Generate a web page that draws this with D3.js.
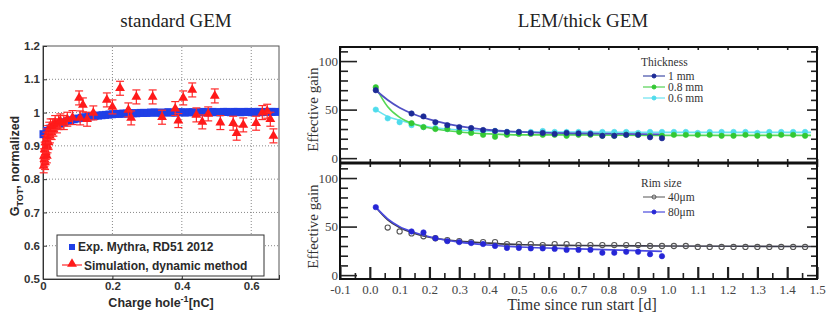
<!DOCTYPE html>
<html lang="en">
<head>
<meta charset="utf-8">
<title>GEM gain stability</title>
<script src="https://d3js.org/d3.v7.min.js"></script>
<style>
  body { margin: 0; background: #fff; }
  .sans { font-family: "Liberation Sans", Arial, sans-serif; font-weight: bold; fill: #2a2a2a; }
  .serif { font-family: "Liberation Serif", "Times New Roman", serif; fill: #333; }
  .tickL text { font-family: "Liberation Sans", Arial, sans-serif; font-weight: bold; font-size: 11.5px; fill: #333; }
  .tickR text { font-family: "Liberation Serif", "Times New Roman", serif; font-size: 13px; fill: #444; }
</style>
</head>
<body>
<svg id="chart" width="830" height="320"></svg>
<script>
// ---------- data: standard GEM (left) ----------
var expX = [0,0.01,0.02,0.03,0.04,0.05,0.06,0.07,0.08,0.09,
  0.10,0.11,0.12,0.13,0.14,0.15,0.16,0.17,0.18,0.19,
  0.20,0.21,0.22,0.23,0.24,0.25,0.26,0.27,0.28,0.29,
  0.30,0.31,0.32,0.33,0.34,0.35,0.36,0.37,0.38,0.39,
  0.40,0.41,0.42,0.43,0.44,0.45,0.46,0.47,0.48,0.49,
  0.50,0.51,0.52,0.53,0.54,0.55,0.56,0.57,0.58,0.59,
  0.60,0.61,0.62,0.63,0.64,0.65,0.66,0.67];
var expY = [0.935,0.945,0.952,0.958,0.963,0.967,0.971,0.974,0.977,0.980,
  0.982,0.984,0.986,0.988,0.989,0.990,0.991,0.992,0.993,0.994,
  0.995,0.996,0.996,0.997,0.997,0.998,0.998,0.998,0.999,0.999,
  0.999,1.000,1.000,1.000,0.999,1.000,1.001,1.000,1.000,1.001,
  1.001,1.000,1.001,1.001,1.000,1.001,1.002,1.001,1.001,1.002,
  1.001,1.001,1.002,1.002,1.001,1.002,1.002,1.001,1.002,1.002,
  1.001,1.002,1.002,1.001,1.002,1.002,1.002,1.002];

var simX = [0.002,0.003,0.004,0.005,0.006,0.007,0.008,0.009,0.010,0.011,0.012,0.013,0.015,0.016,
  0.018,0.020,0.022,0.025,0.028,0.030,0.035,0.040,0.045,0.050,0.060,0.070,0.085,
  0.104,0.115,0.107,0.127,0.145,0.184,0.200,0.222,0.246,0.254,0.269,0.316,0.343,0.381,0.390,
  0.404,0.430,0.442,0.459,0.476,0.495,0.511,0.548,0.558,0.577,0.614,0.632,0.646,0.655,0.664];
var simY = [0.84,0.87,0.86,0.89,0.85,0.91,0.88,0.90,0.92,0.87,0.93,0.90,0.94,0.91,
  0.95,0.93,0.96,0.94,0.96,0.95,0.97,0.96,0.97,0.975,0.97,0.98,0.985,
  1.044,1.023,0.984,0.980,0.999,1.038,1.017,1.073,1.008,0.984,1.047,1.047,0.986,1.012,0.976,
  1.044,1.068,0.993,0.972,0.996,1.050,0.970,0.968,0.938,0.963,0.968,1.000,1.004,0.980,0.930];
var simErr = 0.021;

var gTicksY = [0.5,0.6,0.7,0.8,0.9,1,1.1,1.2];
var gTicksX = [0,0.2,0.4,0.6];

// ---------- data: LEM / thick GEM (right) ----------
var tX1 = [0.02,0.14,0.18,0.22,0.26,0.30,0.34,0.38,0.42,0.46,0.50,0.54,0.58,0.62,0.66,0.70,0.74,0.78,0.82,0.86,0.90,0.94,0.98];
var g1mm = [70,46,43,37,34,32,31,29,28,27,27,26,26,25,26,25.5,25,23,23,24,24,21.5,20.5];

var tX08 = [0.02,0.14,0.18,0.22,0.26,0.30,0.34,0.38,0.42,0.46,0.50,0.54,0.58,0.62,0.66,0.70,0.74,0.78,
  0.82,0.86,0.90,0.94,0.98,1.02,1.06,1.10,1.14,1.18,1.22,1.26,1.30,1.34,1.38,1.42,1.46];
var g08 = [73,36,32,30,30,27,26,24,22,24,25,25,24,24,23,24,24,23,23,24,24,23,23,24,24,24,24,23,23,24,23,23,24,24,23];

var tX06 = [0.02,0.06,0.10,0.14,0.18,0.22,0.26,0.30,0.34,0.38,0.42,0.46,0.50,0.54,0.58,0.62,0.66,0.70,0.74,
  0.78,0.82,0.86,0.90,0.94,0.98,1.02,1.06,1.10,1.14,1.18,1.22,1.26,1.30,1.34,1.38,1.42,1.46];
var g06 = [50,41,37,34,32,31,30,29,29,28,28,27,27,27,28,27,27,27,26,27,27,27,26,27,27,27,27,26,27,27,27,27,26,27,27,27,27];

var rX40 = [0.06,0.10,0.14,0.18,0.22,0.26,0.30,0.34,0.38,0.42,0.46,0.50,0.54,0.58,0.62,0.66,0.70,0.74,
  0.78,0.82,0.86,0.90,0.94,0.98,1.02,1.06,1.10,1.14,1.18,1.22,1.26,1.30,1.34,1.38,1.42,1.46];
var g40 = [49,45,43,40,38,36,35,34,34,34,32,32,32,31,32,32,31,31,31,31,31,31,30,30,30,30,29,29,29,29,29,29,29,29,29,29];

var rX80 = [0.02,0.14,0.18,0.22,0.26,0.30,0.34,0.38,0.42,0.46,0.50,0.54,0.58,0.62,0.66,0.70,0.74,0.78,0.82,0.86,0.90,0.94,0.98];
var g80 = [70,45,44,38,35,34,33,32,30,28,28,27.5,27.5,27,26,26,26,23,23,24,24,21.5,19.5];

// fitted curves at these times
var fitX = [0.02,0.06,0.10,0.15,0.20,0.30,0.40,0.50,0.70,0.98,1.48];
var fit1mm = [70,60,52,45,40,33,29,27,25.5,24.5];
var fit08 = [73,53,42,35,31,27,25,24,24,23.5,23.5];
var fit06 = [50,43,39,35,32,29,28,27,27,26.5,26.5];
var fit40 = [70,57,49,43,39,35,33,31.5,30.5,30,29.5];
var fit80 = [70,58,50,44,39.5,34,31,29,27,24.5];

var tTicks = [-0.1,0.0,0.1,0.2,0.3,0.4,0.5,0.6,0.7,0.8,0.9,1.0,1.1,1.2,1.3,1.4,1.5];
var tMinor = [-0.05,0.05,0.15,0.25,0.35,0.45,0.55,0.65,0.75,0.85,0.95,1.05,1.15,1.25,1.35,1.45];
var gainMajor = [0,50,100];
var gainMinor = [10,20,30,40,60,70,80,90,110];

var svg = d3.select('#chart');

// ================= left chart =================
var xL = d3.scaleLinear().domain([0, 0.68]).range([43, 279]);
var yL = d3.scaleLinear().domain([0.5, 1.2]).range([279, 46]);

var left = svg.append('g');

// dotted grid
left.selectAll('line.gx').data(gTicksX.slice(1)).enter().append('line')
  .attr('x1', function(d) { return xL(d); }).attr('x2', function(d) { return xL(d); })
  .attr('y1', yL(0.5)).attr('y2', yL(1.2))
  .attr('stroke', '#888').attr('stroke-dasharray', '1,2');
left.selectAll('line.gy').data(gTicksY.slice(1, -1)).enter().append('line')
  .attr('x1', xL(0)).attr('x2', xL(0.68))
  .attr('y1', function(d) { return yL(d); }).attr('y2', function(d) { return yL(d); })
  .attr('stroke', '#888').attr('stroke-dasharray', '1,2');

left.append('rect')
  .attr('x', xL(0)).attr('y', yL(1.2))
  .attr('width', xL(0.68) - xL(0)).attr('height', yL(0.5) - yL(1.2))
  .attr('fill', 'none').attr('stroke', '#555');

var axL = left.append('g').attr('class', 'tickL').attr('transform', 'translate(' + xL(0) + ',0)')
  .call(d3.axisLeft(yL).tickValues(gTicksY).tickSize(-4).tickPadding(3)
    .tickFormat(function(d) { return d === 1 ? '1' : d.toFixed(1); }));
axL.select('.domain').attr('stroke', '#333');
axL.selectAll('.tick line').attr('stroke', '#333');

var axB = left.append('g').attr('class', 'tickL').attr('transform', 'translate(0,' + yL(0.5) + ')')
  .call(d3.axisBottom(xL).tickValues(gTicksX).tickSize(-4).tickPadding(3)
    .tickFormat(function(d) { return d === 0 ? '0' : d.toFixed(1); }));
axB.select('.domain').attr('stroke', '#333');
axB.selectAll('.tick line').attr('stroke', '#333');

// experimental data: dense blue squares
left.selectAll('rect.exp').data(expX).enter().append('rect')
  .attr('x', function(d) { return xL(d) - 3.5; })
  .attr('y', function(d, i) { return yL(expY[i]) - 4; })
  .attr('width', 7).attr('height', 8)
  .attr('fill', '#1f3fe6');

// simulation: red triangles with error bars
var sim = left.selectAll('g.sim').data(simX).enter().append('g')
  .attr('transform', function(d, i) { return 'translate(' + xL(d) + ',' + yL(simY[i]) + ')'; });
sim.append('line').attr('y1', yL(1 - simErr) - yL(1)).attr('y2', yL(1 + simErr) - yL(1))
  .attr('stroke', '#ff2a2a').attr('stroke-width', 1.2);
sim.append('line').attr('x1', -4).attr('x2', 4)
  .attr('y1', yL(1 + simErr) - yL(1)).attr('y2', yL(1 + simErr) - yL(1))
  .attr('stroke', '#ff2a2a').attr('stroke-width', 1.2);
sim.append('line').attr('x1', -4).attr('x2', 4)
  .attr('y1', yL(1 - simErr) - yL(1)).attr('y2', yL(1 - simErr) - yL(1))
  .attr('stroke', '#ff2a2a').attr('stroke-width', 1.2);
sim.append('path').attr('d', d3.symbol(d3.symbolTriangle, 42)).attr('fill', '#ff1a1a');

// legend
left.append('rect').attr('x', 57).attr('y', 235).attr('width', 207).attr('height', 41)
  .attr('fill', '#fff').attr('stroke', '#333');
left.append('rect').attr('x', 69).attr('y', 244).attr('width', 6).attr('height', 6).attr('fill', '#1f3fe6');
left.append('text').attr('class', 'sans').attr('x', 78).attr('y', 251).style('font-size', '12px')
  .text('Exp. Mythra, RD51 2012');
left.append('line').attr('x1', 62).attr('x2', 82).attr('y1', 265).attr('y2', 265)
  .attr('stroke', '#ff2a2a').attr('stroke-width', 1.2);
left.append('path').attr('transform', 'translate(72,264)')
  .attr('d', d3.symbol(d3.symbolTriangle, 42)).attr('fill', '#ff1a1a');
left.append('text').attr('class', 'sans').attr('x', 84).attr('y', 270).style('font-size', '12px')
  .text('Simulation, dynamic method');

// titles
svg.append('text').attr('class', 'serif').attr('x', 176).attr('y', 27)
  .attr('text-anchor', 'middle').style('font-size', '19px').style('fill', '#222')
  .text('standard GEM');

var yt = left.append('text').attr('class', 'sans').attr('text-anchor', 'middle')
  .attr('transform', 'translate(19,166) rotate(-90)').style('font-size', '12.5px');
yt.append('tspan').text('G');
yt.append('tspan').attr('dy', 4).style('font-size', '9px').text('TOT');
yt.append('tspan').attr('dy', -4).text(', normalized');

var xt = left.append('text').attr('class', 'sans').attr('text-anchor', 'middle')
  .attr('x', 161).attr('y', 307).style('font-size', '12.5px');
xt.append('tspan').text('Charge hole');
xt.append('tspan').attr('dy', -5).style('font-size', '9px').text('-1');
xt.append('tspan').attr('dy', 5).text('[nC]');

// ================= right chart =================
var xR = d3.scaleLinear().domain([-0.1, 1.5]).range([340, 817]);
var yU = d3.scaleLinear().domain([-5, 114.5]).range([163, 47]);
var yB = d3.scaleLinear().domain([-4, 115.5]).range([279, 163]);

var right = svg.append('g');

function gainAxes(y) {
  var g = right.append('g');
  g.append('g').attr('class', 'tickR').attr('transform', 'translate(340,0)')
    .call(d3.axisLeft(y).tickValues(gainMajor).tickSize(-17).tickPadding(2));
  g.append('g').attr('transform', 'translate(340,0)')
    .call(d3.axisLeft(y).tickValues(gainMinor).tickSize(-8).tickFormat(''));
  g.append('g').attr('transform', 'translate(817,0)')
    .call(d3.axisRight(y).tickValues(gainMajor).tickSize(-10).tickFormat(''));
  g.append('g').attr('transform', 'translate(817,0)')
    .call(d3.axisRight(y).tickValues(gainMinor).tickSize(-6).tickFormat(''));
  g.selectAll('.domain').remove();
  g.selectAll('.tick line').attr('stroke', '#222').attr('stroke-width', 1.2);
}
gainAxes(yU);
gainAxes(yB);

var bx = right.append('g').attr('class', 'tickR').attr('transform', 'translate(0,279)')
  .call(d3.axisBottom(xR).tickValues(tTicks).tickSize(-12).tickPadding(6)
    .tickFormat(function(d) { return d.toFixed(1); }));
right.append('g').attr('transform', 'translate(0,279)')
  .call(d3.axisBottom(xR).tickValues(tMinor).tickSize(-6).tickFormat(''));
right.append('g').attr('transform', 'translate(0,47)')
  .call(d3.axisTop(xR).tickValues(tTicks).tickSize(-3).tickFormat(''));
right.append('g').attr('transform', 'translate(0,163)')
  .call(d3.axisTop(xR).tickValues(tTicks).tickSize(-4).tickFormat(''));
right.append('g').attr('transform', 'translate(0,163)')
  .call(d3.axisBottom(xR).tickValues(tTicks).tickSize(-4).tickFormat(''));
right.selectAll('.domain').remove();
right.selectAll('.tick line').attr('stroke', '#222').attr('stroke-width', 1.6);
bx.selectAll('.tick line').attr('stroke-width', 2.2);

// frames
right.append('rect').attr('x', 340).attr('y', 47).attr('width', 477).attr('height', 232)
  .attr('fill', 'none').attr('stroke', '#111').attr('stroke-width', 2);
right.append('line').attr('x1', 340).attr('x2', 817).attr('y1', 163).attr('y2', 163)
  .attr('stroke', '#111').attr('stroke-width', 3);

function fitLine(y, xs, ys, color, w) {
  var pts = ys.map(function(v, i) { return [xs[i], v]; });
  right.append('path').datum(pts)
    .attr('d', d3.line().x(function(d) { return xR(d[0]); }).y(function(d) { return y(d[1]); })
      .curve(d3.curveMonotoneX))
    .attr('fill', 'none').attr('stroke', color).attr('stroke-width', w);
}
function dots(y, xs, ys, color, open) {
  right.append('g').selectAll('circle').data(xs).enter().append('circle')
    .attr('cx', function(d) { return xR(d); })
    .attr('cy', function(d, i) { return y(ys[i]); })
    .attr('r', open ? 2.6 : 2.7)
    .attr('fill', open ? 'none' : color)
    .attr('stroke', color).attr('stroke-width', open ? 1.1 : 0.6);
}

// upper panel: thickness
fitLine(yU, fitX, fit06, '#6ae4f0', 1.6);
fitLine(yU, fitX, fit08, '#55d855', 1.6);
fitLine(yU, fitX, fit1mm, '#5050c4', 1.8);
dots(yU, tX06, g06, '#4fdcec', false);
dots(yU, tX08, g08, '#33c833', false);
dots(yU, tX1, g1mm, '#1c2a96', false);

// lower panel: rim size
fitLine(yB, fitX, fit40, '#3a3a4a', 1.6);
fitLine(yB, fitX, fit80, '#4a4ae0', 1.6);
dots(yB, rX40, g40, '#555', true);
dots(yB, rX80, g80, '#2626d6', false);

// legends
function legend(x, y, title, items) {
  right.append('text').attr('class', 'serif').attr('x', x).attr('y', y)
    .style('font-size', '11.5px').text(title);
  items.forEach(function(it, i) {
    var yy = y + 10 + i * 11 + (it.gap || 0) * i;
    right.append('line').attr('x1', x + 2).attr('x2', x + 24).attr('y1', yy).attr('y2', yy)
      .attr('stroke', it.color).attr('stroke-width', 1);
    right.append('circle').attr('cx', x + 13).attr('cy', yy).attr('r', 2)
      .attr('fill', it.open ? 'none' : it.color).attr('stroke', it.color);
    right.append('text').attr('class', 'serif').attr('x', x + 27).attr('y', yy + 4)
      .style('font-size', '11.5px').text(it.label);
  });
}
legend(641, 66, 'Thickness', [
  { label: '1 mm', color: '#1c2a96' },
  { label: '0.8 mm', color: '#33c833' },
  { label: '0.6 mm', color: '#4fdcec' }
]);
legend(641, 187, 'Rim size', [
  { label: '40\u03bcm', color: '#555', open: true, gap: 4 },
  { label: '80\u03bcm', color: '#2626d6', gap: 4 }
]);

// titles
svg.append('text').attr('class', 'serif').attr('x', 583).attr('y', 27)
  .attr('text-anchor', 'middle').style('font-size', '19px').style('fill', '#222')
  .text('LEM/thick GEM');
svg.append('text').attr('class', 'serif').attr('x', 582).attr('y', 310)
  .attr('text-anchor', 'middle').style('font-size', '16px')
  .text('Time since run start [d]');
[yU, yB].forEach(function(y) {
  svg.append('text').attr('class', 'serif').attr('text-anchor', 'middle')
    .attr('transform', 'translate(318,' + y(50) + ') rotate(-90)')
    .style('font-size', '15px').text('Effective gain');
});
</script>
</body>
</html>
